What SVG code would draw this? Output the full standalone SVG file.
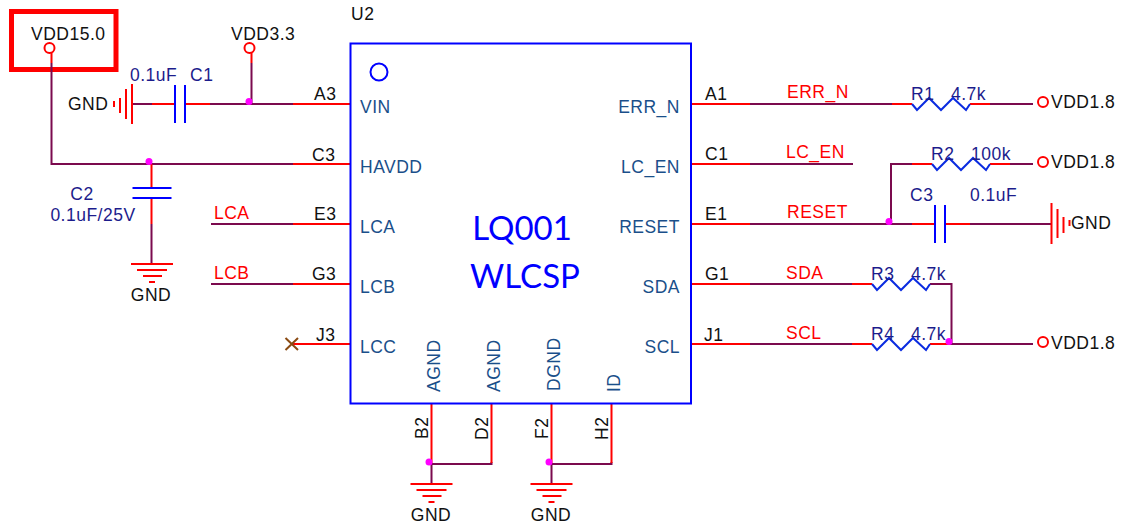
<svg xmlns="http://www.w3.org/2000/svg" width="1122" height="527" viewBox="0 0 1122 527">
<style>
text{font-family:"Liberation Sans",Arial,sans-serif;font-size:17.5px;letter-spacing:.5px}
.k{fill:#111}
.p{fill:#1a4f8a}
.n{fill:#1c1c8c}
.r{fill:#ff0000}
.b{font-family:Lato,"Open Sans",sans-serif;font-size:33px;fill:#0000ff;letter-spacing:0}
.m{text-anchor:middle}
.w,.wr,.s,.e,.z,.c,.x{fill:none}
.w{stroke:#7b0a4e;stroke-width:2}
.wr,.s{stroke:#ff0000;stroke-width:2}
.e{stroke:#0000ff;stroke-width:2}
.z{stroke:#0a2be0;stroke-width:2}
.c{stroke:#ff0000;stroke-width:2}
.x{stroke:#8a4a12;stroke-width:2}
.j{fill:#ff00ff}
</style>
<defs>
<circle id="port" r="5" class="c"/>
<path id="res" class="z" d="M0 0L5 6L17-6L29 6L41-6L54 6L58 0"/>
<path id="gnd" class="s" d="M-21 0H21M-15 6H15M-9 12H10M-3 18H3"/>
<path id="capv" class="e" d="M0-19V19M10-19V19"/>
</defs>

<g id="callout"><rect x="11.500" y="11.500" width="104.500" height="58" fill="none" stroke="#ff0000" stroke-width="5"/></g>

<g id="connectors">
<path class="w" d="M51.500 63V164H293M251.500 63V104M131 104H152M210 104H293M151.500 224V263M211 224H293M211 284H293M750 104H892M990 104H1033M750 164H853M912 164H891V224M750 224H912M970 224H1051M1010 164H1033M750 284H852M930 284H951.500V344M750 344H852M930 344H1033M431.500 464H491.500V462M551.500 464H611.500V462M431.500 464V484M551.500 464V484"/>
<path class="wr" d="M51.500 53V63M251.500 53V63M293 104H351M152 104H175M185 104H210M293 164H351M293 224H351M293 284H351M292 344H351M151.500 164V187M151.500 199V224M691 104H750M892 104H912M970 104H990M691 164H750M912 164H932M990 164H1010M691 224H750M912 224H935M945 224H970M691 284H750M852 284H872M691 344H750M852 344H872M930 344H950M431.500 403V463M491.500 403V463M551.500 403V463M611.500 403V463"/>
<path class="x" d="M285.500 338L298 350M285.500 350L298 338"/>
<g class="j">
<circle cx="249" cy="101.500" r="3.500"/><circle cx="149" cy="161.500" r="3.500"/><circle cx="889" cy="221.500" r="3.500"/><circle cx="949" cy="341.500" r="3.500"/><circle cx="429" cy="462" r="3.500"/><circle cx="549" cy="462" r="3.500"/>
</g>
</g>

<g id="U2">
<rect x="350.500" y="43.500" width="340.500" height="360" fill="none" stroke="#0000ff" stroke-width="2"/>
<circle cx="379" cy="72" r="8.500" fill="none" stroke="#0000ff" stroke-width="2"/>
<text class="k" x="351" y="20">U2</text>
<text class="b m" x="522" y="240">LQ001</text>
<text class="b m" x="525" y="288">WLCSP</text>
<g class="p">
<text x="360" y="113">VIN</text><text x="360" y="173">HAVDD</text><text x="360" y="233">LCA</text><text x="360" y="293">LCB</text><text x="360" y="353">LCC</text>
<text x="680" y="113" text-anchor="end">ERR_N</text><text x="680" y="173" text-anchor="end">LC_EN</text><text x="680" y="233" text-anchor="end">RESET</text><text x="680" y="293" text-anchor="end">SDA</text><text x="680" y="353" text-anchor="end">SCL</text>
<text transform="translate(440 392) rotate(-90)">AGND</text><text transform="translate(500 392) rotate(-90)">AGND</text><text transform="translate(560 391) rotate(-90)">DGND</text><text transform="translate(620 392) rotate(-90)">ID</text>
</g>
<g class="k">
<text x="314" y="100">A3</text><text x="312" y="161">C3</text><text x="314" y="220">E3</text><text x="312" y="280">G3</text><text x="316" y="341">J3</text>
<text x="705" y="100">A1</text><text x="705" y="160">C1</text><text x="705" y="220">E1</text><text x="705" y="280">G1</text><text x="704" y="341">J1</text>
<text transform="translate(428 439) rotate(-90)">B2</text><text transform="translate(488 440) rotate(-90)">D2</text><text transform="translate(548 439) rotate(-90)">F2</text><text transform="translate(608 440) rotate(-90)">H2</text>
</g>
</g>

<g id="VDD15"><use href="#port" x="49.500" y="48"/><text class="k" x="31" y="40">VDD15.0</text></g>
<g id="VDD33"><use href="#port" x="249.500" y="48"/><text class="k" x="231" y="40">VDD3.3</text></g>

<g id="C1">
<use href="#capv" x="175" y="104"/>
<text class="n" x="130" y="81">0.1uF</text><text class="n" x="190" y="81">C1</text>
</g>
<g id="GND1">
<path class="s" d="M132 84V124M126 89V119M120 98V113M114 101V107"/>
<text class="k" x="68" y="110">GND</text>
</g>
<g id="C2">
<path class="e" d="M132.500 188H171.500M132.500 198H171.500"/>
<text class="n m" x="82" y="200">C2</text><text class="n m" x="93" y="221">0.1uF/25V</text>
</g>
<g id="GND2"><use href="#gnd" x="152" y="264"/><text class="k m" x="151" y="301">GND</text></g>
<g id="nets">
<text class="r" x="214" y="219">LCA</text><text class="r" x="214" y="279">LCB</text>
<text class="r" x="787" y="98">ERR_N</text><text class="r" x="786" y="158">LC_EN</text><text class="r" x="787" y="218">RESET</text><text class="r" x="786" y="279">SDA</text><text class="r" x="786" y="339">SCL</text>
</g>
<g id="R1"><use href="#res" x="912" y="104"/><text class="n" x="911" y="100">R1</text><text class="n" x="951" y="100">4.7k</text></g>
<g id="R2"><use href="#res" x="932" y="164"/><text class="n" x="931" y="160">R2</text><text class="n" x="971" y="160">100k</text></g>
<g id="C3">
<use href="#capv" x="935" y="224"/>
<text class="n" x="910" y="201">C3</text><text class="n" x="970" y="201">0.1uF</text>
</g>
<g id="GND3">
<path class="s" d="M1051.500 203V244M1057.500 209V238M1063.500 217V233M1069.500 220V226"/>
<text class="k" x="1071" y="229">GND</text>
</g>
<g id="R3"><use href="#res" x="872" y="284"/><text class="n" x="871" y="280">R3</text><text class="n" x="911" y="280">4.7k</text></g>
<g id="R4"><use href="#res" x="872" y="344"/><text class="n" x="871" y="340">R4</text><text class="n" x="911" y="340">4.7k</text></g>
<g id="VDD18a"><use href="#port" x="1043" y="102"/><text class="k" x="1051" y="108">VDD1.8</text></g>
<g id="VDD18b"><use href="#port" x="1043" y="162"/><text class="k" x="1051" y="168">VDD1.8</text></g>
<g id="VDD18c"><use href="#port" x="1043" y="342"/><text class="k" x="1051" y="349">VDD1.8</text></g>
<g id="GND4"><use href="#gnd" x="431.500" y="484"/><text class="k m" x="431" y="521">GND</text></g>
<g id="GND5"><use href="#gnd" x="551.500" y="484"/><text class="k m" x="551" y="521">GND</text></g>
</svg>
